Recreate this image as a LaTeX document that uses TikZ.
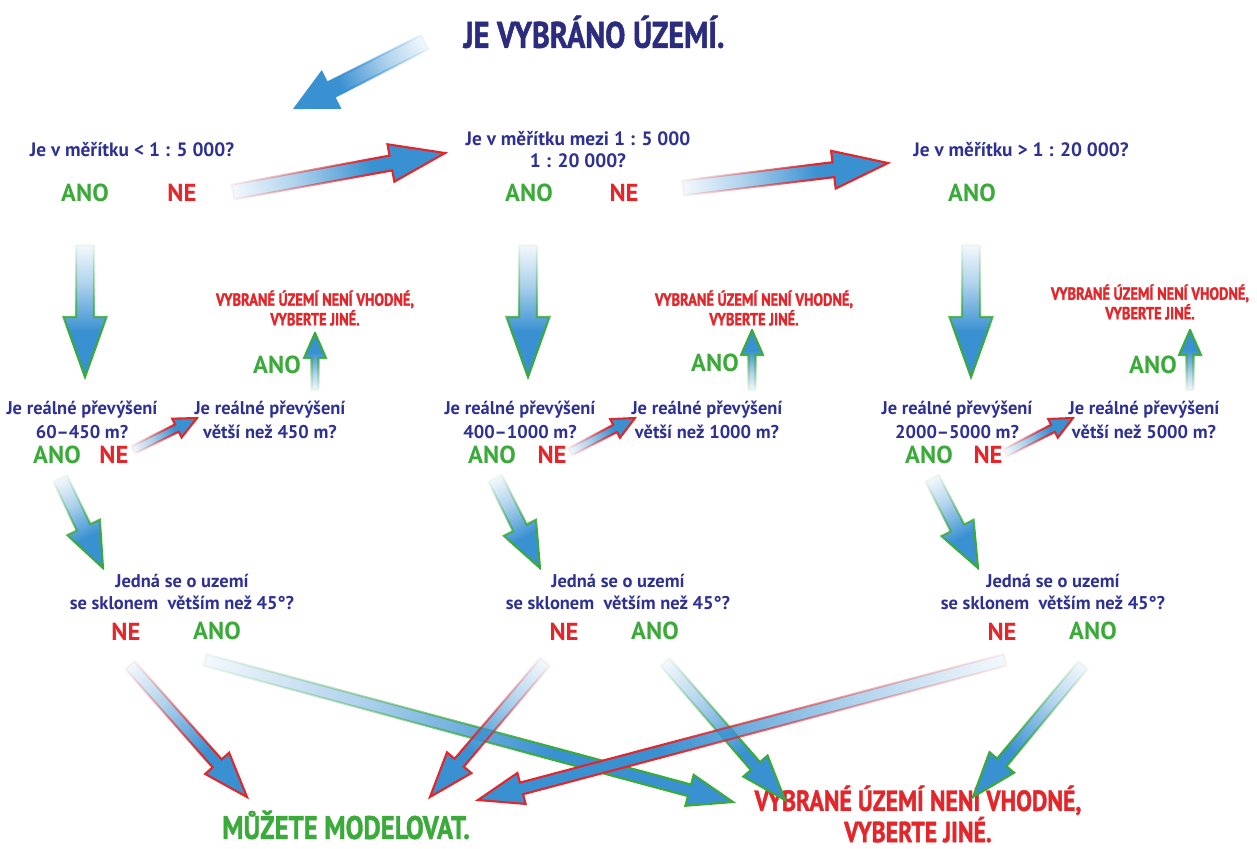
\documentclass[tikz,border=0pt]{standalone}
\usepackage{fontspec}
\setmainfont{PT Sans}
\newfontfamily\narrowsf{PT Sans}[FakeStretch=0.82,FakeBold=1.2]
\usetikzlibrary{calc,fadings,positioning}

\definecolor{arrowblue}{HTML}{3A91D2}
\definecolor{qblue}{HTML}{2E3192}
\definecolor{titleblue}{HTML}{2B2C7E}
\definecolor{anogreen}{HTML}{3BAA3A}
\definecolor{nered}{HTML}{E4252A}

\pgfdeclarehorizontalshading{arrowfadeshade}{100bp}{color(0bp)=(white); color(35bp)=(white); color(70bp)=(black!60); color(100bp)=(black!97)}
\pgfdeclarefading{arrowfade}{\pgfuseshading{arrowfadeshade}}

\tikzset{
  question/.style={text=qblue, font=\bfseries\fontsize{11}{12.5}\selectfont, align=center, inner sep=1pt},
  anolabel/.style={text=anogreen, font=\bfseries\fontsize{14}{16}\selectfont, inner sep=1pt},
  nelabel/.style={text=nered, font=\bfseries\fontsize{14}{16}\selectfont, inner sep=1pt},
  reject/.style={text=nered, font=\narrowsf\bfseries\fontsize{10}{10}\selectfont, align=center, inner sep=1pt},
  headline/.style={text=titleblue, font=\narrowsf\bfseries\fontsize{21}{24}\selectfont, inner sep=1pt},
  arrowbody/.style={fill=arrowblue, line width=1.2pt, line join=miter, path fading=arrowfade, fit fading=false}
}

\newdimen\arrdx
\newdimen\arrdy
\newcommand{\shadearrow}[6]{%
  \coordinate (sa-s) at #2;
  \coordinate (sa-e) at #3;
  \pgfextractx{\arrdx}{\pgfpointdiff{\pgfpointanchor{sa-s}{center}}{\pgfpointanchor{sa-e}{center}}}%
  \pgfextracty{\arrdy}{\pgfpointdiff{\pgfpointanchor{sa-s}{center}}{\pgfpointanchor{sa-e}{center}}}%
  \pgfmathsetmacro{\arrlen}{veclen(\arrdx,\arrdy)}%
  \pgfmathsetmacro{\arrang}{atan2(\arrdy,\arrdx)}%
  \coordinate (sa-b) at ($(sa-e)!#6!(sa-s)$);
  \coordinate (sa-m) at ($(sa-s)!0.5!(sa-e)$);
  \path[arrowbody, draw=#1, fading transform={shift={(sa-m)}, rotate=\arrang+180, xscale=\arrlen/96}]
    ($(sa-s)!#4!-90:(sa-e)$) -- ($(sa-b)!#4!-90:(sa-e)$) -- ($(sa-b)!#5!-90:(sa-e)$) -- (sa-e)
    -- ($(sa-b)!#5!90:(sa-e)$) -- ($(sa-b)!#4!90:(sa-e)$) -- ($(sa-s)!#4!90:(sa-e)$) -- cycle;
}

\begin{document}
\begin{tikzpicture}
  \useasboundingbox[fill=white] (0,0) rectangle (25.14,-16.96);

  \node[headline] (title) at (11.88,-0.64) {JE VYBRÁNO ÚZEMÍ.};

  \node[question] (q1) at (2.64,-3.0) {Je v měřítku < 1 : 5 000?};
  \node[anolabel] (q1ano) at (1.7,-3.86) {ANO};
  \node[nelabel] (q1ne) at (3.64,-3.86) {NE};
  \node[question] (q2) at (11.56,-3.0) {Je v měřítku mezi 1 : 5 000\\1 : 20 000?};
  \node[anolabel] (q2ano) at (10.58,-3.86) {ANO};
  \node[nelabel] (q2ne) at (12.48,-3.86) {NE};
  \node[question] (q3) at (20.42,-3.0) {Je v měřítku > 1 : 20 000?};
  \node[anolabel] (q3ano) at (19.44,-3.86) {ANO};

  \node[reject] (bad1) at (6.3,-6.16) {VYBRANÉ ÚZEMÍ NENÍ VHODNÉ,\\VYBERTE JINÉ.};
  \node[anolabel] (g1ano) at (5.54,-7.3) {ANO};
  \node[question, font=\bfseries\fontsize{10.5}{13.5}\selectfont] (g1) at (5.4,-8.4) {Je reálné převýšení\\větší než 450 m?};
  \node[question, font=\bfseries\fontsize{10.5}{13.5}\selectfont] (h1) at (1.64,-8.4) {Je reálné převýšení\\60–450 m?};
  \node[anolabel] (h1ano) at (1.14,-9.1) {ANO};
  \node[nelabel] (h1ne) at (2.28,-9.1) {NE};

  \node[reject] (bad2) at (15.08,-6.16) {VYBRANÉ ÚZEMÍ NENÍ VHODNÉ,\\VYBERTE JINÉ.};
  \node[anolabel] (g2ano) at (14.3,-7.26) {ANO};
  \node[question, font=\bfseries\fontsize{10.5}{13.5}\selectfont] (g2) at (14.14,-8.4) {Je reálné převýšení\\větší než 1000 m?};
  \node[question, font=\bfseries\fontsize{10.5}{13.5}\selectfont] (h2) at (10.4,-8.4) {Je reálné převýšení\\400–1000 m?};
  \node[anolabel] (h2ano) at (9.84,-9.1) {ANO};
  \node[nelabel] (h2ne) at (11.04,-9.1) {NE};

  \node[reject] (bad3) at (23.0,-6.04) {VYBRANÉ ÚZEMÍ NENÍ VHODNÉ,\\VYBERTE JINÉ.};
  \node[anolabel] (g3ano) at (23.06,-7.3) {ANO};
  \node[question, font=\bfseries\fontsize{10.5}{13.5}\selectfont] (g3) at (22.88,-8.4) {Je reálné převýšení\\větší než 5000 m?};
  \node[question, font=\bfseries\fontsize{10.5}{13.5}\selectfont] (h3) at (19.14,-8.4) {Je reálné převýšení\\2000–5000 m?};
  \node[anolabel] (h3ano) at (18.58,-9.1) {ANO};
  \node[nelabel] (h3ne) at (19.76,-9.1) {NE};

  \node[question, font=\bfseries\fontsize{10.5}{13}\selectfont] (s1) at (3.64,-11.84) {Jedná se o uzemí\\se sklonem~ větším než 45°?};
  \node[nelabel] (s1ne) at (2.52,-12.64) {NE};
  \node[anolabel] (s1ano) at (4.34,-12.62) {ANO};
  \node[question, font=\bfseries\fontsize{10.5}{13}\selectfont] (s2) at (12.36,-11.84) {Jedná se o uzemí\\se sklonem~ větším než 45°?};
  \node[nelabel] (s2ne) at (11.28,-12.64) {NE};
  \node[anolabel] (s2ano) at (13.1,-12.62) {ANO};
  \node[question, font=\bfseries\fontsize{10.5}{13}\selectfont] (s3) at (21.06,-11.84) {Jedná se o uzemí\\se sklonem~ větším než 45°?};
  \node[nelabel] (s3ne) at (20.04,-12.64) {NE};
  \node[anolabel] (s3ano) at (21.86,-12.62) {ANO};

  \node[anolabel, font=\narrowsf\bfseries\fontsize{18.5}{20}\selectfont] (ok) at (6.92,-16.5) {MŮŽETE MODELOVAT.};
  \node[reject, font=\narrowsf\bfseries\fontsize{16.5}{13.5}\selectfont] (bad) at (18.36,-16.28) {VYBRANÉ ÚZEMÍ NENÍ VHODNÉ,\\VYBERTE JINÉ.};

  \shadearrow{arrowblue}{($(title)+(-3.38,-0.2)$)}{($(q1)+(3.26,0.84)$)}{0.16cm}{0.4cm}{0.8cm}
  \shadearrow{nered}{($(q1ne)+(1.02,0.02)$)}{($(q2)+(-2.66,-0.06)$)}{0.15cm}{0.38cm}{1.1cm}
  \shadearrow{nered}{($(q2ne)+(1.18,0.1)$)}{($(q3)+(-2.66,-0.26)$)}{0.15cm}{0.38cm}{1.1cm}

  \shadearrow{anogreen}{($(q1ano)+(0,-1.04)$)}{($(h1)+(0.06,0.86)$)}{0.18cm}{0.43cm}{1.2cm}
  \shadearrow{anogreen}{($(q2ano)+(-0.02,-1.04)$)}{($(h2)+(0.16,0.86)$)}{0.18cm}{0.43cm}{1.2cm}
  \shadearrow{anogreen}{($(q3ano)+(-0.02,-1.04)$)}{($(h3)+(0.28,0.86)$)}{0.18cm}{0.43cm}{1.2cm}

  \shadearrow{nered}{($(h1ne)+(0.38,0.1)$)}{($(g1)+(-1.46,0.04)$)}{0.08cm}{0.21cm}{0.45cm}
  \shadearrow{nered}{($(h2ne)+(0.36,0.06)$)}{($(g2)+(-1.44,0.04)$)}{0.08cm}{0.21cm}{0.45cm}
  \shadearrow{nered}{($(h3ne)+(0.34,0.04)$)}{($(g3)+(-1.42,0.04)$)}{0.08cm}{0.21cm}{0.45cm}

  \shadearrow{anogreen}{($(g1)+(0.9,0.6)$)}{($(bad1)+(0,-0.5)$)}{0.07cm}{0.22cm}{0.5cm}
  \shadearrow{anogreen}{($(g2)+(0.9,0.6)$)}{($(bad2)+(-0.04,-0.44)$)}{0.07cm}{0.22cm}{0.5cm}
  \shadearrow{anogreen}{($(g3)+(0.92,0.6)$)}{($(bad3)+(0.8,-0.56)$)}{0.07cm}{0.22cm}{0.5cm}

  \shadearrow{anogreen}{($(h1ano)+(0.06,-0.46)$)}{($(s1)+(-1.58,0.48)$)}{0.15cm}{0.36cm}{0.9cm}
  \shadearrow{anogreen}{($(h2ano)+(0.06,-0.46)$)}{($(s2)+(-1.56,0.48)$)}{0.15cm}{0.36cm}{0.9cm}
  \shadearrow{anogreen}{($(h3ano)+(0.06,-0.46)$)}{($(s3)+(-1.5,0.48)$)}{0.15cm}{0.36cm}{0.9cm}

  \shadearrow{nered}{($(s1ne)+(0.08,-0.66)$)}{($(ok)+(-1.98,0.56)$)}{0.12cm}{0.32cm}{0.9cm}
  \shadearrow{anogreen}{($(s1ano)+(-0.24,-0.58)$)}{($(bad)+(-3.7,0.24)$)}{0.12cm}{0.32cm}{0.9cm}
  \shadearrow{nered}{($(s2ne)+(-0.38,-0.6)$)}{($(ok)+(1.68,0.56)$)}{0.12cm}{0.32cm}{0.9cm}
  \shadearrow{anogreen}{($(s2ano)+(0.2,-0.62)$)}{($(bad)+(-2.66,0.28)$)}{0.12cm}{0.32cm}{0.9cm}
  \shadearrow{nered}{($(s3ne)+(0.06,-0.56)$)}{($(ok)+(2.64,0.5)$)}{0.12cm}{0.32cm}{0.9cm}
  \shadearrow{anogreen}{($(s3ano)+(-0.2,-0.68)$)}{($(bad)+(1.1,0.34)$)}{0.12cm}{0.32cm}{0.9cm}
\end{tikzpicture}
\end{document}
